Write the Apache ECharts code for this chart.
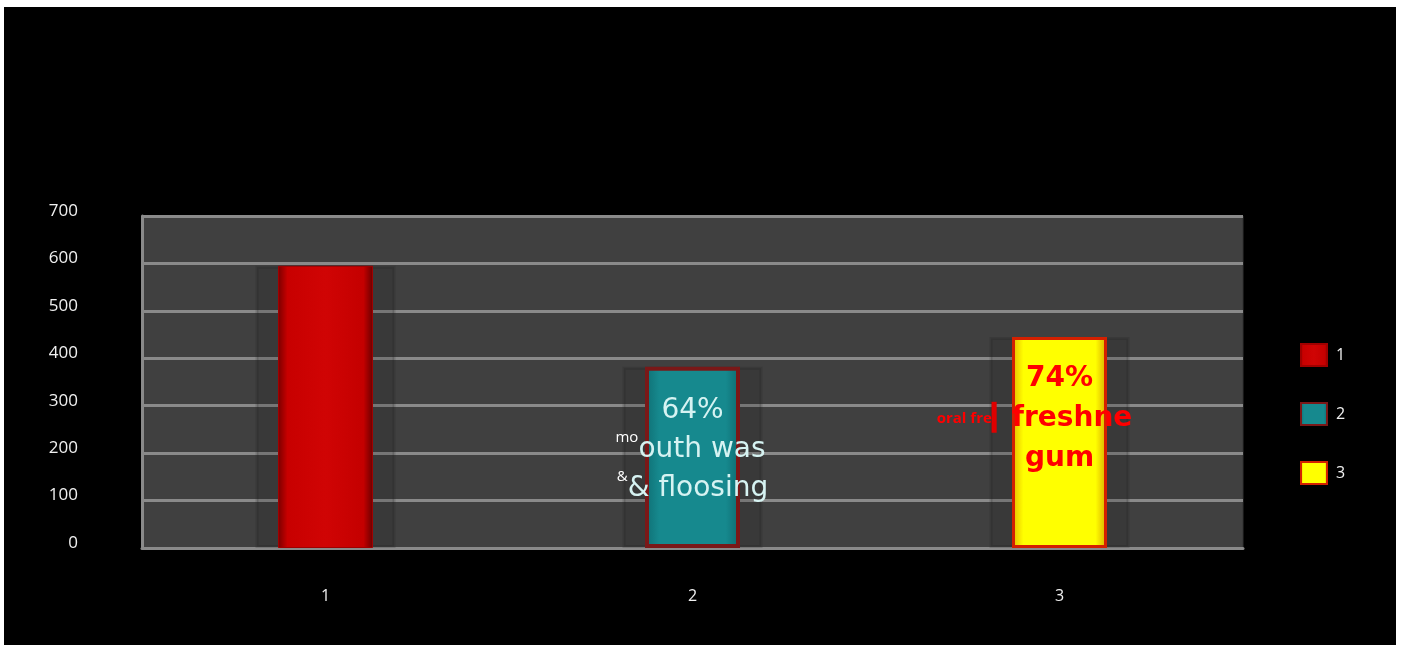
<!DOCTYPE html>
<html><head><meta charset="utf-8">
<script src="https://cdn.jsdelivr.net/npm/echarts@6/dist/echarts.min.js"></script>
<style>
html,body{margin:0;padding:0;background:#fff;width:1402px;height:648px;overflow:hidden}
#c{position:absolute;left:4px;top:7px;width:1392px;height:638px;background:#000}
</style></head><body>
<div id="c"></div>
<script>
const categories = ['1', '2', '3'];
const seriesNames = ['1', '2', '3'];
const values = [595, 382, 445];
const yTicks = { min: 0, max: 700, interval: 100 };

const chart = echarts.init(document.getElementById('c'));
function oneAt(i) { return values.map((v, j) => (j === i ? v : '-')); }
const hGrad = (stops) => new echarts.graphic.LinearGradient(0, 0, 1, 0, stops.map((c) => ({ offset: c[0], color: c[1] })));

const styles = [
  { color: hGrad([[0, '#7a0000'], [0.1, '#c80000'], [0.5, '#d00404'], [0.9, '#c40000'], [1, '#6a0000']]), borderColor: '#a00000', borderWidth: 1 },
  { color: hGrad([[0, '#0f6f74'], [0.15, '#16898e'], [0.85, '#16898e'], [1, '#0e6a70']]), borderColor: '#7a1818', borderWidth: 4 },
  { color: hGrad([[0, '#e6b800'], [0.12, '#ffff00'], [0.88, '#ffff00'], [1, '#d9a800']]), borderColor: '#d42000', borderWidth: 3 }
];

const labels = [
  { show: false },
  {
    show: true, position: 'insideTop', distance: 24,
    formatter: '{b|64%}\n{s|mo}{w|outh was}{t|}\n{s|&}{b|& floosing}',
    rich: {
      b: { fontFamily: 'DejaVu Sans', fontSize: 28, color: '#d6f3f2', lineHeight: 39 },
      w: { fontFamily: 'DejaVu Sans', fontSize: 28, color: '#d6f3f2', lineHeight: 39, letterSpacing: 1 },
      t: { width: 4, lineHeight: 39 },
      s: { fontFamily: 'Open Sans', fontSize: 15, color: '#ffffff', lineHeight: 39, verticalAlign: 'top', padding: [0, 0, 14, 0] }
    }
  },
  {
    show: true, position: 'insideTop', distance: 22,
    formatter: '{b|74%}\n{s|oral fre}{p|▎}{b|freshne}{t|}\n{b|gum}',
    rich: {
      b: { fontFamily: 'DejaVu Sans', fontWeight: 'bold', fontSize: 28, color: '#ff0000', lineHeight: 40 },
      s: { fontFamily: 'Open Sans', fontWeight: 'bold', fontSize: 15, color: '#ff0000', lineHeight: 40 },
      p: { fontFamily: 'DejaVu Sans', fontSize: 26, color: '#e00000', lineHeight: 40 },
      t: { width: 50, lineHeight: 40 }
    }
  }
];

const series = seriesNames.map((n, i) => ({
  name: n, type: 'bar', data: oneAt(i), barWidth: 95, barGap: '-100%', z: 3,
  itemStyle: styles[i], label: labels[i], emphasis: { disabled: true }
}));
series.push({
  name: 'shadow', type: 'bar', xAxisIndex: 1, data: values, barWidth: 140, z: 2, silent: true,
  itemStyle: { color: 'rgba(30,30,30,0.18)', borderColor: 'rgba(30,30,30,0.18)', borderWidth: 3 }
});

chart.setOption({
  backgroundColor: '#000',
  animation: false,
  grid: { left: 138, right: 153, top: 209, bottom: 97, show: true, backgroundColor: '#404040', borderColor: '#333', borderWidth: 1 },
  legend: {
    data: seriesNames.map((n) => ({ name: n, icon: 'rect' })), orient: 'vertical', left: 1291, top: 331, itemWidth: 26, itemHeight: 22, itemGap: 35,
    textStyle: { color: '#f0f0f0', fontSize: 16, fontFamily: 'Open Sans', padding: [0, 0, 0, 4] },
    selectedMode: false
  },
  xAxis: [
    { type: 'category', data: categories, axisTick: { show: false },
      axisLine: { lineStyle: { color: '#8a8a8a', width: 3 } },
      axisLabel: { color: '#f0f0f0', fontSize: 16, fontFamily: 'Open Sans', margin: 40 } },
    { type: 'category', data: categories, show: false }
  ],
  yAxis: {
    type: 'value', min: yTicks.min, max: yTicks.max, interval: yTicks.interval,
    axisLine: { show: true, lineStyle: { color: '#8a8a8a', width: 3 } },
    axisTick: { show: false },
    splitLine: { lineStyle: { color: '#8a8a8a', width: 3 } },
    axisLabel: { color: '#f0f0f0', fontSize: 17, fontFamily: 'Open Sans', margin: 64, verticalAlign: 'bottom', lineHeight: 10 }
  },
  series: series
});
</script>
</body></html>
